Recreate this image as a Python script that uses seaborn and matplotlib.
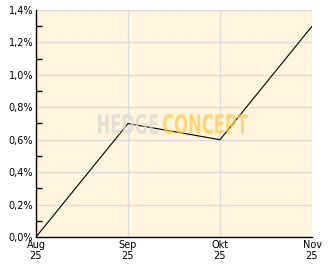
import matplotlib
matplotlib.use("Agg")
import matplotlib.pyplot as plt
import seaborn as sns
import pandas as pd
from matplotlib.ticker import MultipleLocator, FuncFormatter
from matplotlib.textpath import TextPath
from matplotlib.patches import PathPatch
from matplotlib.font_manager import FontProperties
from matplotlib.transforms import Affine2D

months = ["Aug\n25", "Sep\n25", "Okt\n25", "Nov\n25"]
values = [0.0, 0.70, 0.60, 1.30]

df = pd.DataFrame({"x": range(len(months)), "v": values})

sns.set_style("white")
plt.rcParams['font.family'] = ['DejaVu Sans']

W, H = 332, 269
fig = plt.figure(figsize=(W / 100, H / 100), dpi=100)
ax = fig.add_axes([36/W, 32/H, 276/W, 227/H])
ax.set_facecolor("#FFF5DC")

sns.lineplot(data=df, x="x", y="v", ax=ax, color="black", linewidth=0.8, zorder=3)

ax.set_xlim(0, 3)
ax.set_ylim(0, 1.4)
ax.set_xticks(range(len(months)))
ax.set_xticklabels(months)
ax.yaxis.set_major_locator(MultipleLocator(0.2))
ax.yaxis.set_minor_locator(MultipleLocator(0.1))
ax.yaxis.set_major_formatter(FuncFormatter(lambda v, p: f"{v:.1f}%".replace(".", ",")))
ax.grid(True, which="major", color="#DDDDDD", linewidth=1, zorder=0)
ax.set_axisbelow(True)
ax.set_xlabel("")
ax.set_ylabel("")
for s in ["top", "right"]:
    ax.spines[s].set_visible(False)
for s in ["left", "bottom"]:
    ax.spines[s].set_color("black")
    ax.spines[s].set_linewidth(1)
ax.tick_params(axis="both", which="both", direction="in", colors="black", labelsize=7, pad=2)
ax.tick_params(axis="both", which="major", length=4, width=1)
ax.tick_params(axis="y", which="minor", length=4, width=1, left=True)


def watermark(text, x0, x1, ytop, ybot, color, alpha):
    fp = FontProperties(family="DejaVu Sans", weight="bold")
    tp = TextPath((0, 0), text, size=10, prop=fp)
    ext = tp.get_extents()
    sx = (x1 - x0) / ext.width
    sy = (ybot - ytop) / ext.height
    tr = (Affine2D().translate(-ext.x0, -ext.y0).scale(sx, sy)
          .translate(x0, H - ybot))
    patch = PathPatch(tr.transform_path(tp), facecolor=color, edgecolor="none",
                      alpha=alpha, zorder=5, transform=None)
    patch.set_transform(Affine2D())
    fig.add_artist(patch)


watermark("HEDGE", 98, 158, 114, 134, "#DCDAD4", 0.75)
watermark("CONCEPT", 163, 248, 114, 134, "#FFC850", 0.7)

fig.savefig("out.png", dpi=100, facecolor="white")
